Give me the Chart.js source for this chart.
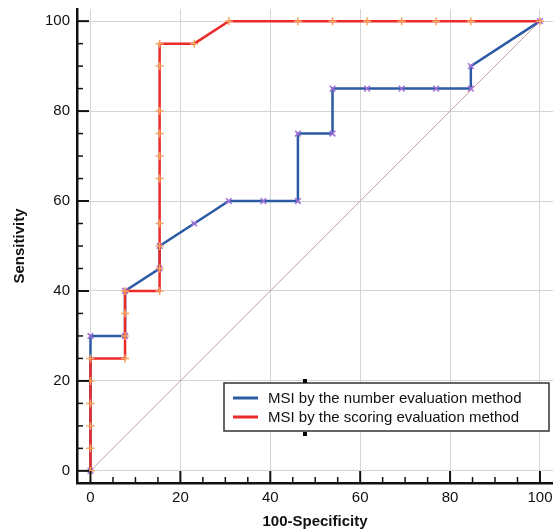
<!DOCTYPE html>
<html>
<head>
<meta charset="utf-8">
<script src="https://cdn.jsdelivr.net/npm/chart.js@4.4.1/dist/chart.umd.min.js"></script>
<style>
  html, body { margin: 0; padding: 0; background: #fff; }
  #wrap { width: 553px; height: 531px; }
</style>
</head>
<body>
<div id="wrap"><canvas id="c" width="553" height="531"></canvas></div>
<script>
// ---- data ----
const xTitle = "100-Specificity";
const yTitle = "Sensitivity";
const tickValues = [0, 20, 40, 60, 80, 100];

const numberLabel = "MSI by the number evaluation method";
const numberFpr  = [0, 0, 7.69, 7.69, 15.38, 15.38, 23.08, 30.77, 38.46, 46.15, 46.15, 53.85, 53.85, 61.54, 69.23, 76.92, 84.62, 84.62, 100];
const numberSens = [0, 30, 30, 40, 45, 50, 55, 60, 60, 60, 75, 75, 85, 85, 85, 85, 85, 90, 100];

const scoringLabel = "MSI by the scoring evaluation method";
const scoringFpr  = [0, 0, 0, 0, 0, 0, 7.69, 7.69, 7.69, 7.69, 15.38, 15.38, 15.38, 15.38, 15.38, 15.38, 15.38, 15.38, 15.38, 15.38, 23.08, 30.77, 46.15, 53.85, 61.54, 69.23, 76.92, 84.62, 100];
const scoringSens = [0, 5, 10, 15, 20, 25, 25, 30, 35, 40, 40, 45, 50, 55, 65, 70, 75, 80, 90, 95, 95, 100, 100, 100, 100, 100, 100, 100, 100];

const diagX = [0, 100];
const diagY = [0, 100];

// ---- styles ----
const FONT = "'Liberation Sans', Arial, Helvetica, sans-serif";
const BLUE = '#2D5AA5';
const RED = '#EB2A2A';

function pts(xs, ys) { return xs.map((x, i) => ({ x: x, y: ys[i] })); }

const innerTicks = {
  id: 'innerTicks',
  afterDraw(chart) {
    const ctx = chart.ctx;
    const xs = chart.scales.x, ys = chart.scales.y;
    const area = chart.chartArea;
    ctx.save();
    ctx.strokeStyle = '#111';
    for (let v = 0; v <= 100; v += 5) {
      const major = v % 20 === 0;
      const len = major ? 12 : 6;
      ctx.lineWidth = major ? 2 : 1.5;
      const px = xs.getPixelForValue(v);
      ctx.beginPath();
      ctx.moveTo(px, area.bottom);
      ctx.lineTo(px, area.bottom - len);
      ctx.stroke();
      const py = ys.getPixelForValue(v);
      ctx.beginPath();
      ctx.moveTo(area.left, py);
      ctx.lineTo(area.left + len, py);
      ctx.stroke();
    }
    ctx.restore();
  }
};

const boxLegend = {
  id: 'boxLegend',
  afterDraw(chart) {
    const ctx = chart.ctx;
    const items = chart.data.datasets.filter(d => d.inLegend);
    const L = 224, T = 383, W = 325, H = 48;
    ctx.save();
    ctx.fillStyle = '#fff';
    ctx.fillRect(L, T, W, H);
    ctx.strokeStyle = '#333';
    ctx.lineWidth = 1.5;
    ctx.strokeRect(L, T, W, H);
    ctx.font = '15px ' + FONT;
    ctx.textBaseline = 'middle';
    ctx.textAlign = 'left';
    items.forEach((d, i) => {
      const y = T + 15 + i * 19;
      ctx.strokeStyle = d.borderColor;
      ctx.lineWidth = 3;
      ctx.beginPath();
      ctx.moveTo(233, y);
      ctx.lineTo(258, y);
      ctx.stroke();
      ctx.fillStyle = '#111';
      ctx.fillText(d.label, 268, y + 1);
    });
    ctx.fillStyle = '#000';
    ctx.fillRect(303, T - 4, 4, 4);
    ctx.fillRect(303, T + H + 1, 4, 4);
    ctx.restore();
  }
};

function noPad(s) { s.paddingLeft = 0; s.paddingRight = 0; s.paddingTop = 0; s.paddingBottom = 0; }

new Chart(document.getElementById('c'), {
  type: 'line',
  data: {
    datasets: [
      {
        label: numberLabel, inLegend: true, order: 1,
        data: pts(numberFpr, numberSens),
        borderColor: BLUE, borderWidth: 2.5, tension: 0,
        pointStyle: 'crossRot', pointRadius: 4, pointBorderWidth: 1.5,
        pointBorderColor: '#A070D8', pointBackgroundColor: '#A070D8'
      },
      {
        label: scoringLabel, inLegend: true, order: 0,
        data: pts(scoringFpr, scoringSens),
        borderColor: RED, borderWidth: 2.5, tension: 0,
        pointStyle: 'cross', pointRadius: 4, pointBorderWidth: 1.5,
        pointBorderColor: '#F5A25D', pointBackgroundColor: '#F5A25D'
      },
      {
        label: 'reference', inLegend: false, order: 2,
        data: pts(diagX, diagY),
        borderColor: 'rgba(200,145,150,0.9)', borderWidth: 1, pointRadius: 0, tension: 0
      }
    ]
  },
  options: {
    responsive: false,
    animation: false,
    layout: { autoPadding: false, padding: { top: 9, right: 0, bottom: 0, left: 0 } },
    plugins: { legend: { display: false }, tooltip: { enabled: false } },
    scales: {
      x: {
        type: 'linear', min: -3, max: 102.9,
        afterBuildTicks: s => { s.ticks = tickValues.map(v => ({ value: v })); },
        afterFit: s => { s.height = 48; noPad(s); },
        grid: { color: '#d4d4d4', lineWidth: 1, drawTicks: false },
        border: { display: true, color: '#111', width: 2.5 },
        ticks: { padding: 6, color: '#111', font: { family: FONT, size: 15 }, maxRotation: 0 },
        title: { display: true, text: xTitle, color: '#111', font: { family: FONT, size: 15, weight: 'bold' }, padding: { top: 0, bottom: 0 } }
      },
      y: {
        type: 'linear', min: -2.7, max: 102.7,
        afterBuildTicks: s => { s.ticks = tickValues.map(v => ({ value: v })); },
        afterFit: s => { s.width = 77; noPad(s); },
        grid: { color: '#d4d4d4', lineWidth: 1, drawTicks: false },
        border: { display: true, color: '#111', width: 2.5 },
        ticks: { padding: 7, color: '#111', font: { family: FONT, size: 15 } },
        title: { display: true, text: yTitle, color: '#111', font: { family: FONT, size: 15, weight: 'bold' }, padding: { top: 11, bottom: 0 } }
      }
    }
  },
  plugins: [innerTicks, boxLegend]
});
</script>
</body>
</html>
